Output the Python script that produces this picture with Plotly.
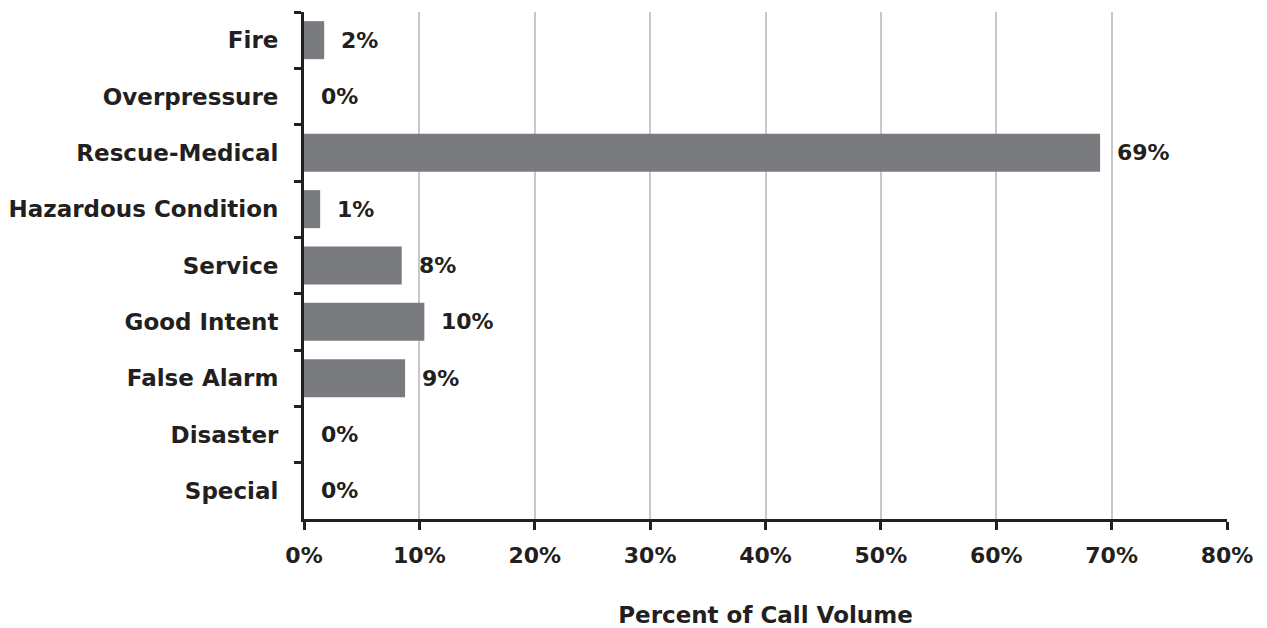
import plotly.graph_objects as go

categories = ["Fire", "Overpressure", "Rescue-Medical", "Hazardous Condition", "Service",
              "Good Intent", "False Alarm", "Disaster", "Special"]
values = [1.75, 0.0, 69.0, 1.4, 8.47, 10.43, 8.76, 0.0, 0.0]
labels = ["2%", "0%", "69%", "1%", "8%", "10%", "9%", "0%", "0%"]
x_ticks = [0, 10, 20, 30, 40, 50, 60, 70, 80]
x_tick_text = ["0%", "10%", "20%", "30%", "40%", "50%", "60%", "70%", "80%"]

FONT = "DejaVu Sans"
DARK = "#231f20"
F_CAT = dict(family=FONT, size=23, color=DARK, weight="bold")
F_NUM = dict(family=FONT, size=22, color=DARK, weight="bold")

fig = go.Figure()
fig.add_trace(go.Bar(
    y=categories, x=values, orientation="h",
    marker=dict(color="#7a7b7f", line=dict(width=0)),
    hoverinfo="skip",
))

for c, v, t in zip(categories, values, labels):
    fig.add_annotation(x=v, y=c, xref="x", yref="y", text=t, showarrow=False,
                       xanchor="left", xshift=15, font=F_NUM)

# page body has an 8px margin, so the figure is sized/offset to compensate
fig.update_layout(
    width=1259, height=620,
    margin=dict(l=296, r=40, t=4, b=109),
    paper_bgcolor="white", plot_bgcolor="white",
    bargap=0.325,
    showlegend=False,
    font=F_CAT,
)
fig.update_xaxes(
    range=[0, 80], tickvals=x_ticks, ticktext=x_tick_text,
    showgrid=True, gridcolor="#c8c8c8", gridwidth=1.5,
    showline=True, linecolor=DARK, linewidth=3,
    ticks="outside", ticklen=8, tickwidth=3, tickcolor=DARK,
    ticklabelstandoff=7,
    zeroline=False, automargin=False,
    title=dict(text="Percent of Call Volume", standoff=40, font=F_CAT),
    tickfont=F_NUM,
)
fig.update_yaxes(
    categoryorder="array", categoryarray=categories, autorange="reversed",
    showline=True, linecolor=DARK, linewidth=3,
    ticks="outside", ticklen=7, tickwidth=3, tickcolor=DARK,
    tickson="boundaries", ticklabelstandoff=18,
    showgrid=False, automargin=False,
    tickfont=F_CAT,
)

fig.write_html("out.html")
